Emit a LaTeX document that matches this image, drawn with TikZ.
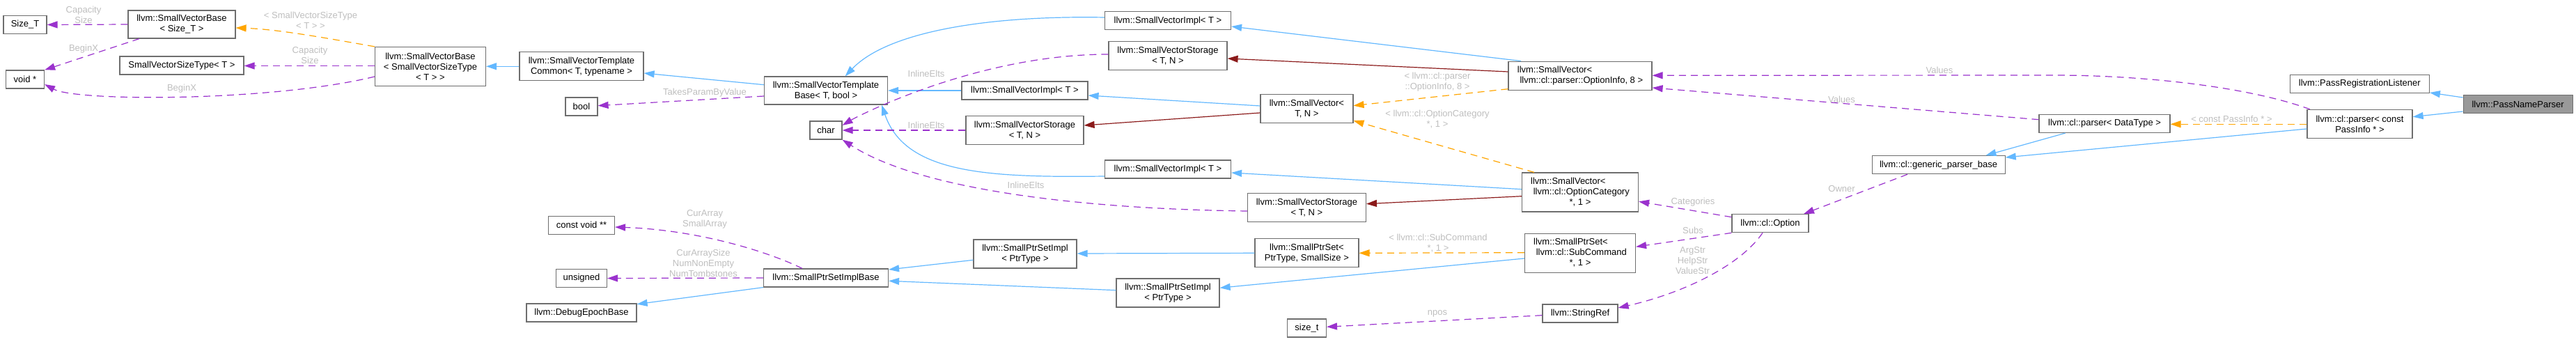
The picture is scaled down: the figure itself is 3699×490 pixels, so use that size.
\documentclass[tikz,border=0pt]{standalone}
\usepackage{fontspec}
\setmainfont{Liberation Sans}
\usetikzlibrary{arrows.meta}
\definecolor{boxgray}{RGB}{110,110,110}
\definecolor{mainfill}{RGB}{153,153,153}
\definecolor{inhblue}{RGB}{99,184,255}
\definecolor{usepurple}{RGB}{154,50,205}
\definecolor{tmplorange}{RGB}{255,165,0}
\definecolor{compred}{RGB}{139,26,26}
\definecolor{lblgray}{RGB}{190,190,190}
\begin{document}
\begin{tikzpicture}[x=1pt,y=-1pt,font=\fontsize{13}{15}\selectfont,
  cls/.style={draw=boxgray,fill=white,line width=1.2pt,inner sep=0pt,align=center},
  mainc/.style={cls,fill=mainfill},
  lbl/.style={text=lblgray,align=center,inner sep=0pt},
  edgebase/.style={line width=1.2pt,-{Triangle[length=15pt,width=10pt]}},
  inh/.style={edgebase,draw=inhblue},
  use/.style={edgebase,draw=usepurple,dash pattern=on 10pt off 7pt},
  tmpl/.style={edgebase,draw=tmplorange,dash pattern=on 10pt off 7pt},
  comp/.style={edgebase,draw=compred}]
\useasboundingbox (0,0) rectangle (3699,490);
% nodes
\node[cls,minimum width=62pt,minimum height=26pt] (SizeT) at (36,35.5) {Size\_T};
\node[cls,minimum width=55pt,minimum height=26pt] (voidp) at (36,114) {void *};
\node[cls,minimum width=154pt,minimum height=40pt] (SVBsize) at (261,35) {llvm::SmallVectorBase\\< Size\_T >};
\node[cls,minimum width=178pt,minimum height=26pt] (SVST) at (261,94) {SmallVectorSizeType< T >};
\node[cls,minimum width=159pt,minimum height=56pt] (SVBST) at (618,95.5) {llvm::SmallVectorBase\\< SmallVectorSizeType\\< T > >};
\node[cls,minimum width=178pt,minimum height=41pt] (SVTC) at (835,95.3) {llvm::SmallVectorTemplate\\Common< T, typename >};
\node[cls,minimum width=46pt,minimum height=26pt] (bool) at (835,153) {bool};
\node[cls,minimum width=95pt,minimum height=26pt] (cvoid) at (835,323.3) {const void **};
\node[cls,minimum width=73pt,minimum height=26pt] (unsig) at (835,399.5) {unsigned};
\node[cls,minimum width=158pt,minimum height=26pt] (DEB) at (835,449) {llvm::DebugEpochBase};
\node[cls,minimum width=177pt,minimum height=40pt] (SVTB) at (1186,130) {llvm::SmallVectorTemplate\\Base< T, bool >};
\node[cls,minimum width=46pt,minimum height=26pt] (char) at (1186,187) {char};
\node[cls,minimum width=179pt,minimum height=26pt] (SPSIB) at (1186,399) {llvm::SmallPtrSetImplBase};
\node[cls,minimum width=181pt,minimum height=26pt] (SVImplB) at (1471.5,130) {llvm::SmallVectorImpl< T >};
\node[cls,minimum width=169pt,minimum height=41pt] (SVStorB) at (1471.5,187) {llvm::SmallVectorStorage\\< T, N >};
\node[cls,minimum width=148pt,minimum height=41pt] (SPSImplA) at (1472,364.5) {llvm::SmallPtrSetImpl\\< PtrType >};
\node[cls,minimum width=181pt,minimum height=26pt] (SVImplA) at (1677,29.7) {llvm::SmallVectorImpl< T >};
\node[cls,minimum width=170pt,minimum height=41pt] (SVStorA) at (1677,80.3) {llvm::SmallVectorStorage\\< T, N >};
\node[cls,minimum width=181pt,minimum height=26pt] (SVImplC) at (1677,243) {llvm::SmallVectorImpl< T >};
\node[cls,minimum width=148pt,minimum height=41pt] (SPSImplB) at (1677,420.5) {llvm::SmallPtrSetImpl\\< PtrType >};
\node[cls,minimum width=133pt,minimum height=41pt] (SVTN) at (1876.4,156.3) {llvm::SmallVector<\\T, N >};
\node[cls,minimum width=170pt,minimum height=41pt] (SVStorC) at (1876.4,297.8) {llvm::SmallVectorStorage\\< T, N >};
\node[cls,minimum width=149pt,minimum height=41pt] (SPSTN) at (1876.4,363.3) {llvm::SmallPtrSet<\\PtrType, SmallSize >};
\node[cls,minimum width=56pt,minimum height=26pt] (sizet) at (1876.4,471) {size\_t};
\node[cls,minimum width=206pt,minimum height=41pt] (SVOI) at (2269,108.7) {\begin{tabular}{@{}l@{}}llvm::SmallVector<\\\ llvm::cl::parser::OptionInfo, 8 >\end{tabular}};
\node[cls,minimum width=167pt,minimum height=56pt] (SVOC) at (2269,276) {\begin{tabular}{@{}l@{}}llvm::SmallVector<\\\ llvm::cl::OptionCategory\\\multicolumn{1}{@{}c@{}}{*, 1 >}\end{tabular}};
\node[cls,minimum width=159pt,minimum height=56pt] (SPSSC) at (2269,363.5) {\begin{tabular}{@{}l@{}}llvm::SmallPtrSet<\\\ llvm::cl::SubCommand\\\multicolumn{1}{@{}c@{}}{*, 1 >}\end{tabular}};
\node[cls,minimum width=108pt,minimum height=26pt] (SRef) at (2269,450) {llvm::StringRef};
\node[cls,minimum width=110pt,minimum height=26pt] (Opt) at (2542,320.7) {llvm::cl::Option};
\node[cls,minimum width=191pt,minimum height=26pt] (GPB) at (2783.6,236.7) {llvm::cl::generic\_parser\_base};
\node[cls,minimum width=188pt,minimum height=26pt] (pDT) at (3022,177.5) {llvm::cl::parser< DataType >};
\node[cls,minimum width=151pt,minimum height=41pt] (pPI) at (3388.5,178) {llvm::cl::parser< const\\PassInfo * >};
\node[cls,minimum width=200pt,minimum height=26pt] (PRL) at (3388.3,120.3) {llvm::PassRegistrationListener};
\node[mainc,minimum width=157pt,minimum height=26pt] (PNP) at (3615.6,149.7) {llvm::PassNameParser};
% edges
\draw[use] (SVBsize.west) -- (SizeT.east);
\draw[use] (SVBsize.south -| 200,0) -- (voidp.north east);
\draw[tmpl] (SVBST.north west) .. controls (470,55) and (400,42) .. (SVBsize.east |- 0,40);
\draw[use] (SVBST.west |- 0,94.5) -- (SVST.east |- 0,94.5);
\draw[use] (SVBST.west |- 0,110) .. controls (390,146) and (110,146) .. (voidp.east |- 0,121);
\draw[inh] (SVTC.west |- 0,95.3) -- (SVBST.east |- 0,95.3);
\draw[inh] (SVTB.west |- 0,121.7) -- (SVTC.east |- 0,105);
\draw[use] (SVTB.west |- 0,138) -- (bool.east |- 0,151.7);
\draw[inh] (SVImplA.west |- 0,25) .. controls (1420,22) and (1275,45) .. (SVTB.north -| 1213.6,0);
\draw[inh] (SVImplB.west) -- (SVTB.east);
\draw[inh] (SVImplC.west |- 0,253) .. controls (1420,255) and (1300,250) .. (SVTB.south -| 1266,0);
\draw[use] (SVStorA.west |- 0,78) .. controls (1400,78) and (1226,170) .. (char.east |- 0,180);
\draw[use] (SVStorB.west |- 0,187) -- (char.east |- 0,187);
\draw[use] (SVStorC.west |- 0,303) .. controls (1550,300) and (1320,272) .. (char.south east);
\draw[use] (SPSIB.north -| 1152,0) .. controls (1100,360) and (1000,330) .. (cvoid.east |- 0,326);
\draw[use] (SPSIB.west) -- (unsig.east);
\draw[inh] (SPSIB.south west) -- (DEB.east |- 0,436.7);
\draw[inh] (SPSImplA.west |- 0,373.3) -- (SPSIB.east |- 0,387);
\draw[inh] (SPSImplB.west |- 0,416.7) -- (SPSIB.east |- 0,403.3);
\draw[inh] (SVOI.north -| 2184,0) -- (SVImplA.east |- 0,38);
\draw[comp] (SVOI.west |- 0,103) -- (SVStorA.east |- 0,84);
\draw[tmpl] (SVOI.west |- 0,127.7) -- (SVTN.east |- 0,151.7);
\draw[inh] (SVTN.west |- 0,152) -- (SVImplB.east |- 0,137);
\draw[comp] (SVTN.west |- 0,162) -- (SVStorB.east |- 0,180);
\draw[tmpl] (SVOC.north -| 2203,0) -- (SVTN.east |- 0,173.3);
\draw[inh] (SVOC.west |- 0,271.7) -- (SVImplC.east |- 0,248);
\draw[comp] (SVOC.west |- 0,281.7) -- (SVStorC.east |- 0,292.7);
\draw[inh] (SPSTN.west |- 0,363.3) -- (SPSImplA.east |- 0,364);
\draw[tmpl] (SPSSC.west |- 0,362.7) -- (SPSTN.east |- 0,363.3);
\draw[inh] (SPSSC.west |- 0,371) -- (SPSImplB.east |- 0,413.3);
\draw[use] (SRef.west |- 0,452.7) -- (sizet.east |- 0,469.3);
\draw[use] (Opt.west |- 0,311.7) -- (SVOC.east |- 0,289.3);
\draw[use] (Opt.south west) -- (SPSSC.east |- 0,354.3);
\draw[use] (Opt.south -| 2531,0) .. controls (2500,380) and (2420,420) .. (SRef.east |- 0,442);
\draw[use] (GPB.south -| 2739,0) -- (Opt.north -| 2590,0);
\draw[use] (pDT.west |- 0,171.7) -- (SVOI.east |- 0,126);
\draw[use] (pPI.north -| 3317,0) .. controls (3230,125) and (3080,108) .. (2950,108) -- (SVOI.east |- 0,108.3);
\draw[inh] (pDT.south -| 2965.6,0) -- (GPB.north -| 2851.4,0);
\draw[inh] (pPI.west |- 0,185) -- (GPB.east |- 0,226);
\draw[tmpl] (pPI.west |- 0,178.3) -- (pDT.east |- 0,178.3);
\draw[inh] (PNP.west |- 0,140) -- (PRL.east |- 0,133);
\draw[inh] (PNP.west |- 0,160) -- (pPI.east |- 0,167.7);
% labels
\node[lbl] (lb1) at (120,21) {Capacity\\Size};
\node[lbl] (lb2) at (120,70) {BeginX};
\node[lbl] (lb3) at (446,29) {< SmallVectorSizeType\\< T > >};
\node[lbl] (lb4) at (445,79) {Capacity\\Size};
\node[lbl] (lb5) at (261,127) {BeginX};
\node[lbl] (lb6) at (1012,133) {TakesParamByValue};
\node[lbl] (lb7) at (1330,106) {InlineElts};
\node[lbl] (lb8) at (1330,180) {InlineElts};
\node[lbl] (lb9) at (1473,266) {InlineElts};
\node[lbl] (lb10) at (1012,315) {CurArray\\SmallArray};
\node[lbl] (lb11) at (1010,377.7) {CurArraySize\\NumNonEmpty\\NumTombstones};
\node[lbl] (lb12) at (2064,117.5) {< llvm::cl::parser\\::OptionInfo, 8 >};
\node[lbl] (lb13) at (2064,171) {< llvm::cl::OptionCategory\\*, 1 >};
\node[lbl] (lb14) at (2065,349) {< llvm::cl::SubCommand\\*, 1 >};
\node[lbl] (lb15) at (2785,101) {Values};
\node[lbl] (lb16) at (2644.5,142.7) {Values};
\node[lbl] (lb17) at (2644.5,270.7) {Owner};
\node[lbl] (lb18) at (2431,290) {Categories};
\node[lbl] (lb19) at (2431,330.7) {Subs};
\node[lbl] (lb20) at (2430.5,374.3) {ArgStr\\HelpStr\\ValueStr};
\node[lbl] (lb21) at (2064,450) {npos};
\node[lbl] (lb22) at (3204.4,170.7) {< const PassInfo * >};
\end{tikzpicture}
\end{document}
